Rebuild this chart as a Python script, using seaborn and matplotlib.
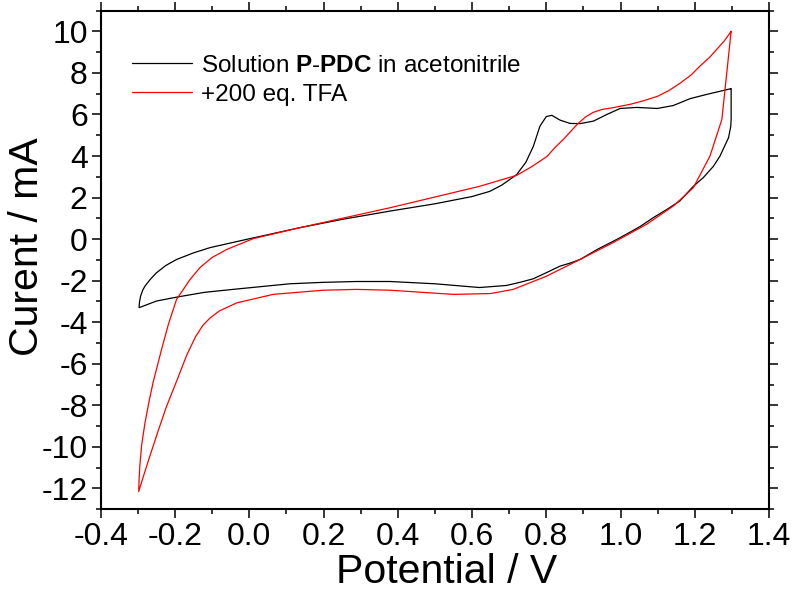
import numpy as np
import pandas as pd
import matplotlib
matplotlib.use("Agg")
import matplotlib.pyplot as plt
from matplotlib.ticker import MultipleLocator
import seaborn as sns

# ---- data, each loop starts at the positive vertex ----
black_x = [1.298, 1.298, 1.297, 1.291, 1.268, 1.250, 1.223, 1.196, 1.160, 1.125, 1.088, 1.053,
           0.999, 0.937, 0.891, 0.865, 0.837, 0.802, 0.765, 0.729, 0.693, 0.657, 0.620, 0.500,
           0.379, 0.289, 0.200, 0.109, -0.044, -0.120, -0.192, -0.250, -0.297,
           -0.296, -0.293, -0.287, -0.281, -0.266, -0.250, -0.225, -0.196, -0.150, -0.106,
           -0.007, 0.136, 0.250, 0.379, 0.500,
           0.600, 0.648, 0.680, 0.720, 0.745, 0.765, 0.783, 0.800, 0.815, 0.837, 0.864, 0.891,
           0.927, 0.963, 0.999, 1.044, 1.099, 1.142, 1.187, 1.233, 1.297]
black_y = [7.24, 5.76, 5.43, 4.88, 4.00, 3.50, 2.96, 2.54, 1.84, 1.43, 1.03, 0.61,
           0.07, -0.50, -0.98, -1.15, -1.30, -1.60, -1.91, -2.08, -2.23, -2.28, -2.33, -2.15,
           -2.04, -2.04, -2.08, -2.15, -2.42, -2.56, -2.78, -2.98, -3.30,
           -3.05, -2.75, -2.45, -2.26, -1.92, -1.62, -1.27, -0.98, -0.66, -0.41,
           -0.01, 0.55, 0.95, 1.35, 1.70,
           2.05, 2.30, 2.60, 3.10, 3.70, 4.46, 5.44, 5.90, 5.96, 5.73, 5.57, 5.56,
           5.68, 6.00, 6.29, 6.34, 6.29, 6.43, 6.76, 6.97, 7.24]

red_x = [1.298, 1.273, 1.241, 1.196, 1.142, 1.070, 0.980, 0.882, 0.801, 0.711, 0.650, 0.550,
         0.379, 0.289, 0.199, 0.064, -0.034, -0.080, -0.106, -0.125, -0.145, -0.169, -0.195,
         -0.223, -0.245, -0.268, -0.285, -0.298,
         -0.297, -0.295, -0.290, -0.281, -0.270, -0.259, -0.236, -0.218, -0.196, -0.160,
         -0.133, -0.100, -0.061, 0.010, 0.136, 0.379,
         0.620, 0.720, 0.761, 0.802, 0.823, 0.846, 0.883, 0.905, 0.926, 0.950, 0.980, 1.026,
         1.060, 1.099, 1.130, 1.160, 1.190, 1.214, 1.240, 1.259, 1.280, 1.298]
red_y = [10.00, 5.76, 4.00, 2.47, 1.59, 0.71, -0.17, -1.06, -1.78, -2.42, -2.62, -2.66,
         -2.46, -2.42, -2.46, -2.66, -3.07, -3.45, -3.80, -4.15, -4.70, -5.60, -6.80,
         -8.05, -9.20, -10.45, -11.40, -12.15,
         -11.60, -10.93, -9.90, -8.84, -7.80, -6.88, -5.28, -4.10, -2.90, -1.95,
         -1.37, -0.88, -0.50, 0.02, 0.55, 1.51,
         2.54, 3.07, 3.49, 3.98, 4.40, 4.80, 5.52, 5.87, 6.10, 6.24, 6.33, 6.49,
         6.65, 6.87, 7.15, 7.50, 7.90, 8.33, 8.75, 9.13, 9.55, 10.00]

label_black = r"Solution $\mathbf{P\text{-}PDC}$ in acetonitrile"
label_red = "+200 eq. TFA"

df = pd.concat([
    pd.DataFrame({"Potential": black_x, "Current": black_y, "series": label_black}),
    pd.DataFrame({"Potential": red_x, "Current": red_y, "series": label_red}),
], ignore_index=True)

sns.set_style("ticks")
plt.rcParams["font.family"] = ["Liberation Sans", "DejaVu Sans"]
plt.rcParams["mathtext.fontset"] = "custom"
plt.rcParams["mathtext.rm"] = "Liberation Sans"
plt.rcParams["mathtext.bf"] = "Liberation Sans:bold"
plt.rcParams["mathtext.it"] = "Liberation Sans:italic"
for key in ["text.color", "axes.labelcolor", "xtick.color", "ytick.color",
            "axes.edgecolor"]:
    plt.rcParams[key] = "black"

fig = plt.figure(figsize=(7.94, 5.90), dpi=100)
ax = fig.add_axes([0.127, 0.137, 0.8415, 0.845])

sns.lineplot(data=df, x="Potential", y="Current", hue="series", sort=False,
             estimator=None, palette={label_black: "#000000", label_red: "#ff0000"},
             linewidth=0.9, ax=ax)

ax.set_xlim(-0.4, 1.4)
ax.set_ylim(-13, 11)
xt = np.round(np.arange(-0.4, 1.41, 0.2), 1)
ax.set_xticks(xt)
ax.set_xticklabels([f"{v:.1f}" for v in xt])
ax.xaxis.set_minor_locator(MultipleLocator(0.1))
yt = list(range(-12, 11, 2))
ax.set_yticks(yt)
ax.set_yticklabels([f"{v:d}" for v in yt])
ax.yaxis.set_minor_locator(MultipleLocator(1))

for s in ax.spines.values():
    s.set_visible(True)
    s.set_linewidth(1.5)
    s.set_color("black")
ax.tick_params(which="both", direction="out", top=True, right=True,
               labeltop=False, labelright=False, width=1.1, color="black",
               labelcolor="black")
ax.tick_params(which="major", length=6.5, labelsize=23, pad=3)
ax.tick_params(which="minor", length=3.6)

ax.set_xlabel("Potential / V", fontsize=29.5, labelpad=0.5, color="black")
ax.set_ylabel("Curent / mA", fontsize=29.5, labelpad=-3, color="black")
ax.xaxis.label.set_x(0.518)
ax.yaxis.label.set_y(0.526)

leg = ax.legend(loc="upper left", bbox_to_anchor=(0.046, 0.911), frameon=False,
                fontsize=17.5, handlelength=2.5, handletextpad=0.35,
                labelspacing=0.27, borderpad=0, borderaxespad=0, title=None)
for line in leg.get_lines():
    line.set_linewidth(0.9)
for t in leg.get_texts():
    t.set_color("black")

fig.savefig("out.png", dpi=100)
